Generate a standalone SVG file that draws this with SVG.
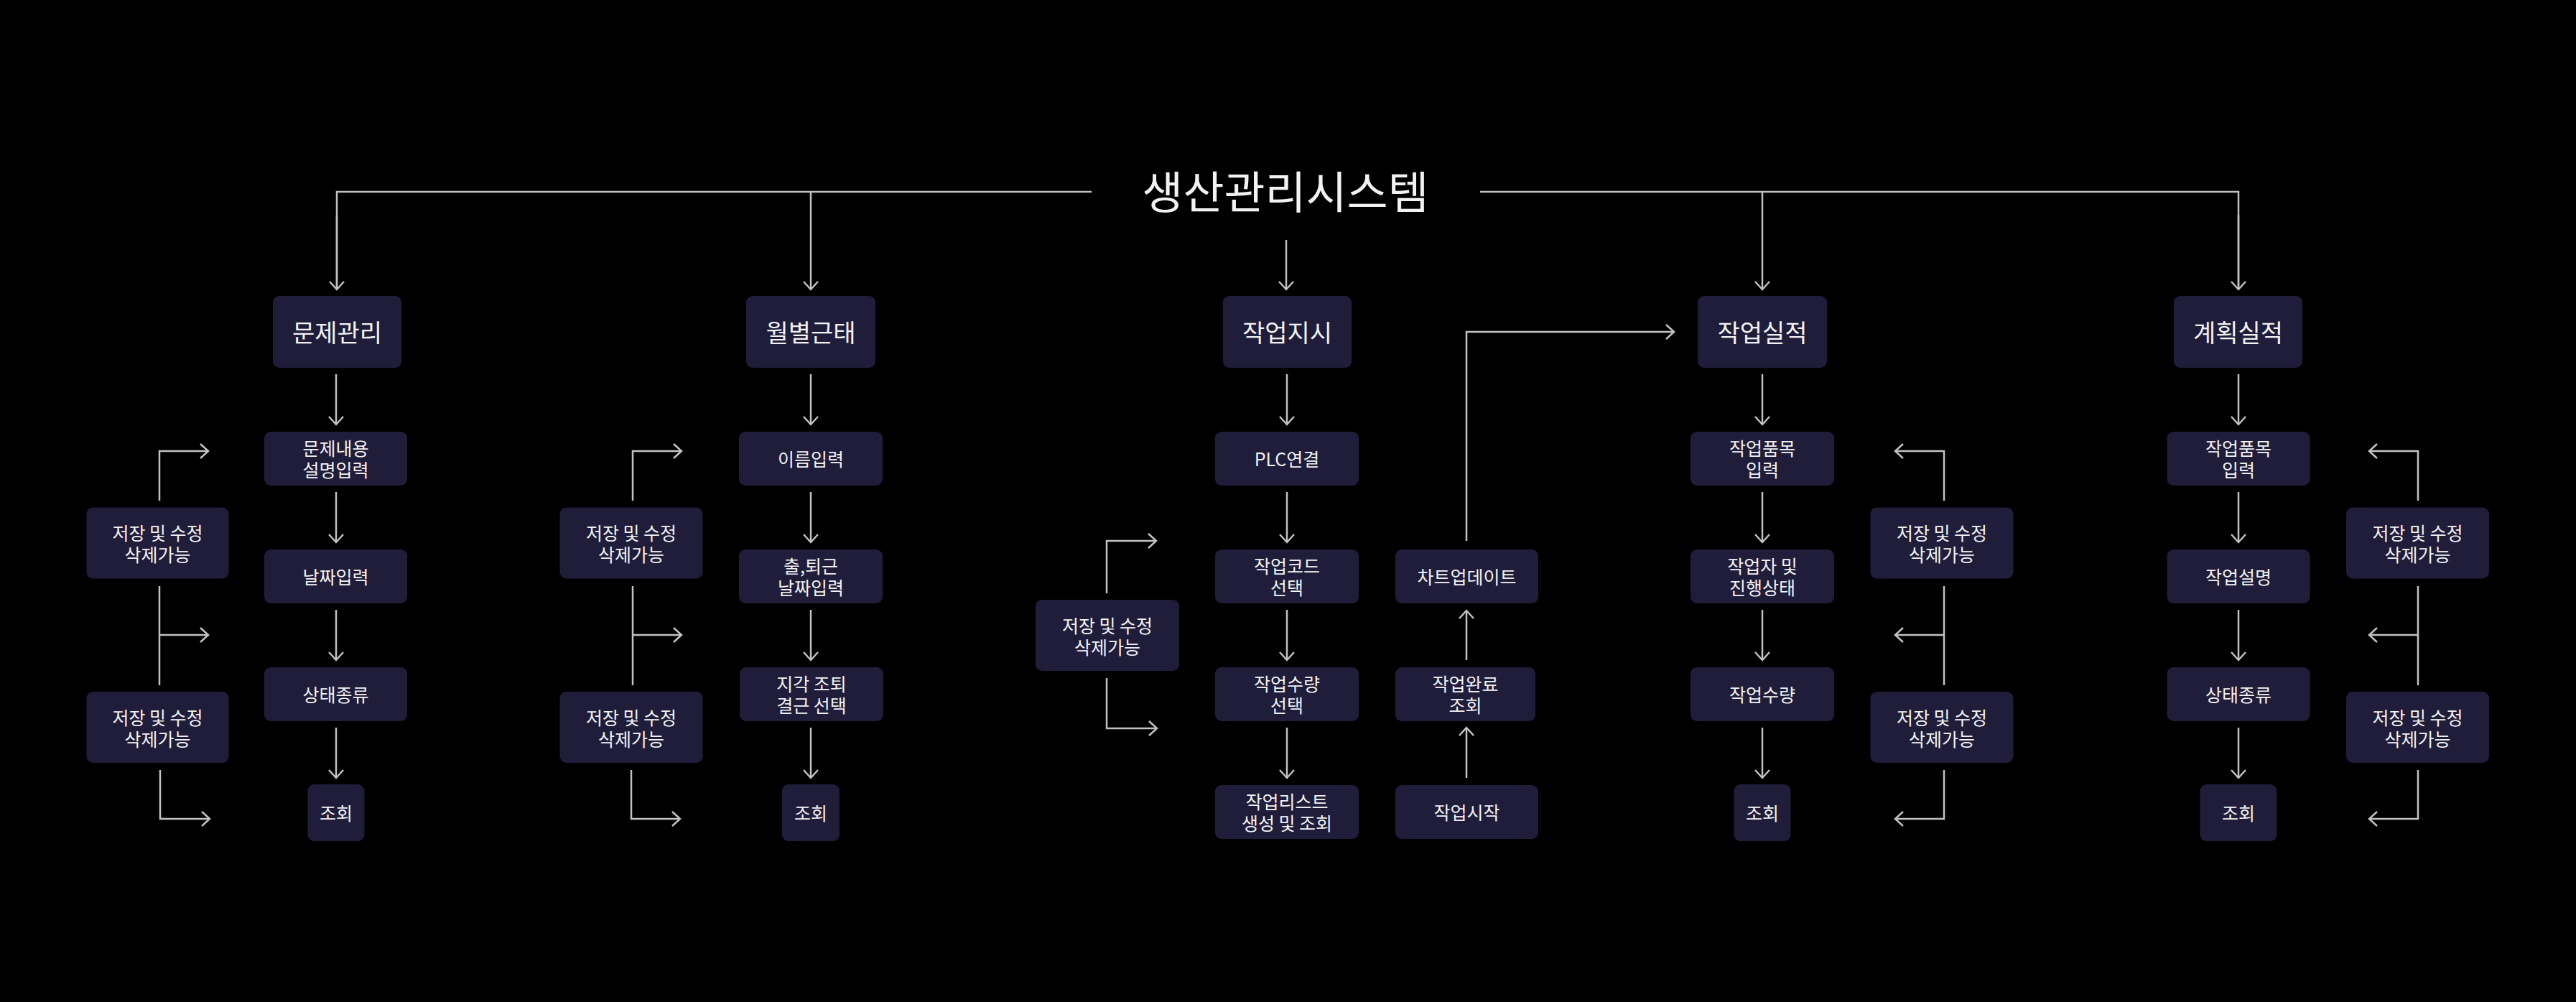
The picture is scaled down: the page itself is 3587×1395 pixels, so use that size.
<svg xmlns="http://www.w3.org/2000/svg" width="3587" height="1395" viewBox="0 0 3587 1395">
<defs>
<style>
text{font-family:"Noto Sans CJK KR","Noto Sans",sans-serif;fill:#f2f2f2;text-anchor:middle;dominant-baseline:central}
.b{fill:#201d3b}
.t0{font-size:62px}
.t1{font-size:34px}
.t2{font-size:25px}
.c{fill:none;stroke:#c2c2c2;stroke-width:2.5;marker-end:url(#ah)}
.cn{fill:none;stroke:#c2c2c2;stroke-width:2.5}
.cs{fill:none;stroke:#b4b4b4;stroke-width:1.8;marker-end:url(#ahs)}
</style>
<marker id="ah" markerUnits="userSpaceOnUse" viewBox="-13 -12 15 24" refX="0" refY="0" markerWidth="15" markerHeight="24" orient="auto" overflow="visible">
<path d="M-11,-10 L0,0 L-11,10" fill="none" stroke="#c2c2c2" stroke-width="2.5"/>
</marker>
<marker id="ahs" markerUnits="userSpaceOnUse" viewBox="-10 -7 12 14" refX="0" refY="0" markerWidth="12" markerHeight="14" orient="auto" overflow="visible">
<path d="M-8,-5 L0,0 L-8,5" fill="none" stroke="#b4b4b4" stroke-width="1.8"/>
</marker>
</defs>
<rect width="3587" height="1395" fill="#000"/>

<g id="connectors">
<path class="cn" d="M1520 267 H469 V403"/>
<path class="c" d="M469 300 V403"/>
<path class="c" d="M1129 267 V403"/>
<path class="c" d="M1791 334 V403"/>
<path class="cn" d="M2061 267 H3117 V403"/>
<path class="c" d="M3117 300 V403"/>
<path class="c" d="M2454 267 V403"/>
<!-- section 1 -->
<path class="c" d="M468 521 V591"/>
<path class="c" d="M468 685 V755"/>
<path class="c" d="M468 849 V919"/>
<path class="c" d="M468 1013 V1083"/>
<path class="c" d="M222 697 V628 H290"/>
<path class="cn" d="M222 816 V954"/>
<path class="c" d="M222 884 H290"/>
<path class="c" d="M223 1072 V1140 H292"/>
<!-- section 2 -->
<path class="c" d="M1129 521 V591"/>
<path class="c" d="M1129 685 V755"/>
<path class="c" d="M1129 849 V919"/>
<path class="c" d="M1129 1013 V1083"/>
<path class="c" d="M881 697 V628 H949"/>
<path class="cn" d="M881 816 V954"/>
<path class="c" d="M881 884 H949"/>
<path class="c" d="M879 1072 V1140 H947"/>
<!-- section 3 -->
<path class="c" d="M1792 521 V591"/>
<path class="c" d="M1792 685 V755"/>
<path class="c" d="M1792 849 V919"/>
<path class="c" d="M1792 1013 V1083"/>
<path class="c" d="M2042 1083 V1013"/>
<path class="c" d="M2042 919 V850"/>
<path class="c" d="M2042 753 V462 H2331"/>
<path class="c" d="M1541 826 V753 H1610"/>
<path class="c" d="M1541 944 V1014 H1611"/>
<path class="cs" d="M1762 1131 H1827"/>
<!-- section 4 -->
<path class="c" d="M2454 521 V591"/>
<path class="c" d="M2454 685 V755"/>
<path class="c" d="M2454 849 V919"/>
<path class="c" d="M2454 1013 V1083"/>
<path class="c" d="M2707 697 V628 H2639"/>
<path class="cn" d="M2707 816 V954"/>
<path class="c" d="M2707 884 H2639"/>
<path class="c" d="M2707 1072 V1140 H2639"/>
<!-- section 5 -->
<path class="c" d="M3117 521 V591"/>
<path class="c" d="M3117 685 V755"/>
<path class="c" d="M3117 849 V919"/>
<path class="c" d="M3117 1013 V1083"/>
<path class="c" d="M3367 697 V628 H3299"/>
<path class="cn" d="M3367 816 V954"/>
<path class="c" d="M3367 884 H3299"/>
<path class="c" d="M3367 1072 V1140 H3299"/>
</g>

<g id="title"><text class="t0" x="1790" y="264">생산관리시스템</text></g>

<!-- level 1 -->
<g id="n-problem"><rect class="b" x="380" y="412" width="179" height="100" rx="9"/><text class="t1" x="469.5" y="461">문제관리</text></g>
<g id="n-attend"><rect class="b" x="1039" y="412" width="180" height="100" rx="9"/><text class="t1" x="1129" y="461">월별근태</text></g>
<g id="n-order"><rect class="b" x="1703" y="412" width="179" height="100" rx="9"/><text class="t1" x="1792.5" y="461">작업지시</text></g>
<g id="n-result"><rect class="b" x="2364" y="412" width="180" height="100" rx="9"/><text class="t1" x="2454" y="461">작업실적</text></g>
<g id="n-plan"><rect class="b" x="3027" y="412" width="179" height="100" rx="9"/><text class="t1" x="3116.5" y="461">계획실적</text></g>

<!-- section 1 -->
<g id="s1-a"><rect class="b" x="368" y="601" width="199" height="75" rx="9"/><text class="t2"><tspan x="467.5" y="623">문제내용</tspan><tspan x="467.5" y="653">설명입력</tspan></text></g>
<g id="s1-b"><rect class="b" x="368" y="765" width="199" height="75" rx="9"/><text class="t2" x="467.5" y="802">날짜입력</text></g>
<g id="s1-c"><rect class="b" x="368" y="929" width="199" height="75" rx="9"/><text class="t2" x="467.5" y="966">상태종류</text></g>
<g id="s1-d"><rect class="b" x="428.5" y="1092" width="79" height="79" rx="9"/><text class="t2" x="468" y="1131">조회</text></g>
<g id="s1-e"><rect class="b" x="120.5" y="706.5" width="198" height="99" rx="9"/><text class="t2"><tspan x="219.5" y="741">저장 및 수정</tspan><tspan x="219.5" y="771">삭제가능</tspan></text></g>
<g id="s1-f"><rect class="b" x="120.5" y="963" width="198" height="99" rx="9"/><text class="t2"><tspan x="219.5" y="998">저장 및 수정</tspan><tspan x="219.5" y="1028">삭제가능</tspan></text></g>

<!-- section 2 -->
<g id="s2-a"><rect class="b" x="1029" y="601" width="200" height="75" rx="9"/><text class="t2" x="1129" y="638">이름입력</text></g>
<g id="s2-b"><rect class="b" x="1029" y="765" width="200" height="75" rx="9"/><text class="t2"><tspan x="1129" y="787">출,퇴근</tspan><tspan x="1129" y="817">날짜입력</tspan></text></g>
<g id="s2-c"><rect class="b" x="1030" y="929" width="200" height="75" rx="9"/><text class="t2"><tspan x="1130" y="951">지각 조퇴</tspan><tspan x="1130" y="981">결근 선택</tspan></text></g>
<g id="s2-d"><rect class="b" x="1089" y="1092" width="80" height="79" rx="9"/><text class="t2" x="1129" y="1131">조회</text></g>
<g id="s2-e"><rect class="b" x="779.5" y="706.5" width="199" height="99" rx="9"/><text class="t2"><tspan x="879" y="741">저장 및 수정</tspan><tspan x="879" y="771">삭제가능</tspan></text></g>
<g id="s2-f"><rect class="b" x="779.5" y="963" width="199" height="99" rx="9"/><text class="t2"><tspan x="879" y="998">저장 및 수정</tspan><tspan x="879" y="1028">삭제가능</tspan></text></g>

<!-- section 3 -->
<g id="s3-a"><rect class="b" x="1692" y="601" width="200" height="75" rx="9"/><text class="t2" x="1792" y="638">PLC연결</text></g>
<g id="s3-b"><rect class="b" x="1692" y="765" width="200" height="75" rx="9"/><text class="t2"><tspan x="1792" y="787">작업코드</tspan><tspan x="1792" y="817">선택</tspan></text></g>
<g id="s3-c"><rect class="b" x="1692" y="929" width="200" height="75" rx="9"/><text class="t2"><tspan x="1792" y="951">작업수량</tspan><tspan x="1792" y="981">선택</tspan></text></g>
<g id="s3-d"><rect class="b" x="1692" y="1093" width="200" height="75" rx="9"/><text class="t2"><tspan x="1792" y="1115">작업리스트</tspan><tspan x="1792" y="1145">생성 및 조회</tspan></text></g>
<g id="s3-e"><rect class="b" x="1943" y="765" width="199" height="75" rx="9"/><text class="t2" x="2042.5" y="802">차트업데이트</text></g>
<g id="s3-f"><rect class="b" x="1943" y="929" width="195" height="75" rx="9"/><text class="t2"><tspan x="2040.5" y="951">작업완료</tspan><tspan x="2040.5" y="981">조회</tspan></text></g>
<g id="s3-g"><rect class="b" x="1943" y="1093" width="199" height="75" rx="9"/><text class="t2" x="2042.5" y="1130">작업시작</text></g>
<g id="s3-h"><rect class="b" x="1442" y="835" width="200" height="99" rx="9"/><text class="t2"><tspan x="1542" y="870">저장 및 수정</tspan><tspan x="1542" y="900">삭제가능</tspan></text></g>

<!-- section 4 -->
<g id="s4-a"><rect class="b" x="2354" y="601" width="200" height="75" rx="9"/><text class="t2"><tspan x="2454" y="623">작업품목</tspan><tspan x="2454" y="653">입력</tspan></text></g>
<g id="s4-b"><rect class="b" x="2354" y="765" width="200" height="75" rx="9"/><text class="t2"><tspan x="2454" y="787">작업자 및</tspan><tspan x="2454" y="817">진행상태</tspan></text></g>
<g id="s4-c"><rect class="b" x="2354" y="929" width="200" height="75" rx="9"/><text class="t2" x="2454" y="966">작업수량</text></g>
<g id="s4-d"><rect class="b" x="2414.5" y="1092" width="79" height="79" rx="9"/><text class="t2" x="2454" y="1131">조회</text></g>
<g id="s4-e"><rect class="b" x="2604.5" y="706.5" width="199" height="99" rx="9"/><text class="t2"><tspan x="2704" y="741">저장 및 수정</tspan><tspan x="2704" y="771">삭제가능</tspan></text></g>
<g id="s4-f"><rect class="b" x="2604.5" y="963" width="199" height="99" rx="9"/><text class="t2"><tspan x="2704" y="998">저장 및 수정</tspan><tspan x="2704" y="1028">삭제가능</tspan></text></g>

<!-- section 5 -->
<g id="s5-a"><rect class="b" x="3017.5" y="601" width="199" height="75" rx="9"/><text class="t2"><tspan x="3117" y="623">작업품목</tspan><tspan x="3117" y="653">입력</tspan></text></g>
<g id="s5-b"><rect class="b" x="3017.5" y="765" width="199" height="75" rx="9"/><text class="t2" x="3117" y="802">작업설명</text></g>
<g id="s5-c"><rect class="b" x="3017.5" y="929" width="199" height="75" rx="9"/><text class="t2" x="3117" y="966">상태종류</text></g>
<g id="s5-d"><rect class="b" x="3063.5" y="1092" width="107" height="79" rx="9"/><text class="t2" x="3117" y="1131">조회</text></g>
<g id="s5-e"><rect class="b" x="3267" y="706.5" width="199" height="99" rx="9"/><text class="t2"><tspan x="3366.5" y="741">저장 및 수정</tspan><tspan x="3366.5" y="771">삭제가능</tspan></text></g>
<g id="s5-f"><rect class="b" x="3267" y="963" width="199" height="99" rx="9"/><text class="t2"><tspan x="3366.5" y="998">저장 및 수정</tspan><tspan x="3366.5" y="1028">삭제가능</tspan></text></g>
</svg>
